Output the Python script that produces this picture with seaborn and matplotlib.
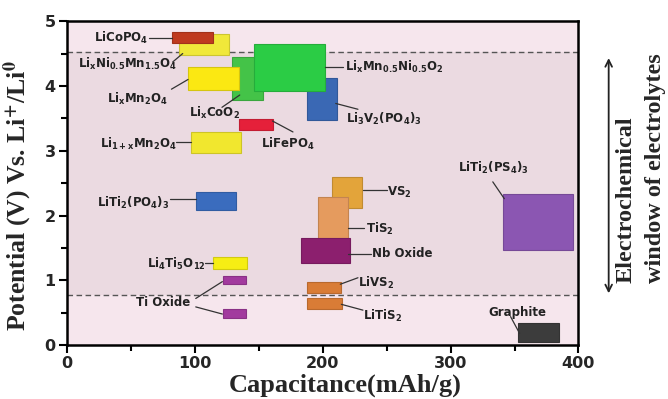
import numpy as np
import seaborn as sns
import matplotlib.pyplot as plt
import matplotlib.colors as mcolors
from matplotlib.transforms import blended_transform_factory

# boxes: capacity range (mAh/g) and potential range (V), drawn in this order
materials = ["LixNi0.5Mn1.5O4", "LiCoPO4", "LixCoO2", "LixMn2O4", "Li3V2(PO4)3",
             "LixMn0.5Ni0.5O2", "LiFePO4", "Li1+xMn2O4", "LiTi2(PO4)3", "VS2", "TiS2",
             "Nb Oxide", "Li4Ti5O12", "Ti Oxide (high)", "Ti Oxide (low)", "LiVS2",
             "LiTiS2", "LiTi2(PS4)3", "Graphite"]
cap_lo = [88, 82, 129, 95, 188, 146, 135, 97, 101, 207, 196, 183, 114, 122, 122, 188, 188, 341, 353]
cap_hi = [127, 114, 153, 135, 211, 202, 161, 136, 132, 231, 220, 221, 141, 140, 140, 214, 215, 396, 385]
pot_lo = [4.48, 4.66, 3.78, 3.94, 3.48, 3.92, 3.32, 2.97, 2.09, 2.11, 1.63, 1.26, 1.18, 0.94, 0.42, 0.80, 0.55, 1.47, 0.05]
pot_hi = [4.80, 4.83, 4.45, 4.30, 4.12, 4.64, 3.49, 3.29, 2.36, 2.59, 2.28, 1.66, 1.36, 1.07, 0.55, 0.98, 0.73, 2.34, 0.34]

box_colors = ["#f0e83a", "#bf3a20", "#44c348", "#fbe812", "#3a68b4", "#2bcc45", "#e5203a",
              "#f1e72e", "#3a6cbe", "#e3a43a", "#e59b5e", "#8c1f6e", "#f6ee14", "#a23a9e",
              "#a23a9e", "#d97c36", "#d97c36", "#8b56b2", "#3c3c3c"]

# electrolyte stability window
window_lo, window_hi = 0.77, 4.52

# label text, text centre, leader line (x0, y0, x1, y1)
labels = [
    (r"LiCoPO$_4$", 42.6, 4.74, [(64, 4.74, 82, 4.74)]),
    (r"Li$_x$Ni$_{0.5}$Mn$_{1.5}$O$_4$", 47, 4.34, [(82.8, 4.37, 90.6, 4.50)]),
    (r"Li$_x$Mn$_2$O$_4$", 55.6, 3.80, [(81.8, 3.95, 94.8, 4.10)]),
    (r"Li$_x$CoO$_2$", 115.2, 3.58, [(121.3, 3.67, 135.2, 3.86)]),
    (r"Li$_x$Mn$_{0.5}$Ni$_{0.5}$O$_2$", 255.6, 4.30, [(201.6, 4.30, 216, 4.30)]),
    (r"Li$_3$V$_2$(PO$_4$)$_3$", 247.7, 3.49, [(210.2, 3.73, 227.6, 3.64)]),
    (r"LiFePO$_4$", 172.8, 3.10, [(160.7, 3.46, 176.8, 3.29)]),
    (r"Li$_{1+x}$Mn$_2$O$_4$", 56.3, 3.10, [(85.7, 3.14, 97.4, 3.14)]),
    (r"LiTi$_2$(PO$_4$)$_3$", 52.3, 2.20, [(80.5, 2.25, 100.8, 2.25)]),
    (r"Li$_4$Ti$_5$O$_{12}$", 85.7, 1.25, [(107.8, 1.27, 114.3, 1.27)]),
    ("Ti Oxide", 75, 0.66, [(100.8, 0.72, 121.6, 0.98), (100.8, 0.59, 121.6, 0.48)]),
    (r"VS$_2$", 260, 2.36, [(231.5, 2.39, 250.5, 2.39)]),
    (r"TiS$_2$", 244.5, 1.80, [(219.8, 1.81, 232, 1.81)]),
    ("Nb Oxide", 262.5, 1.41, [(219.8, 1.40, 238, 1.40)]),
    (r"LiVS$_2$", 242, 0.96, [(213.8, 0.94, 227.6, 1.04)]),
    (r"LiTiS$_2$", 246.6, 0.45, [(214.6, 0.63, 231.5, 0.54)]),
    ("Graphite", 352.6, 0.50, [(346.9, 0.44, 354, 0.18)]),
    (r"LiTi$_2$(PS$_4$)$_3$", 333.6, 2.73, [(333, 2.52, 342, 2.26)]),
]

sns.set_theme(style="ticks")
plt.rcParams["mathtext.default"] = "bf"
plt.rcParams["font.family"] = ["DejaVu Sans"]

fig = plt.figure(figsize=(6.68, 3.99), dpi=100)
ax = fig.add_axes([0.100, 0.135, 0.766, 0.812])
ax.set_facecolor("#f6e6ed")
ax.axhspan(window_lo, window_hi, color="#ebdae1", zorder=0, lw=0)
for yv in (window_lo, window_hi):
    ax.axhline(yv, color="#555555", lw=1.0, ls=(0, (4, 2.5)), zorder=1)

heights = np.array(pot_hi) - np.array(pot_lo)
widths = np.array(cap_hi) - np.array(cap_lo)
edges = [tuple(c * 0.85 for c in mcolors.to_rgb(col)) for col in box_colors]
ax.bar(cap_lo, heights, width=widths, bottom=pot_lo, align="edge",
       color=box_colors, edgecolor=edges, linewidth=0.8, zorder=2)

for text, tx, ty, segs in labels:
    ax.text(tx, ty, text, ha="center", va="center", fontsize=8.5,
            fontweight="bold", color="#222222", zorder=4)
    for x0, y0, x1, y1 in segs:
        ax.plot([x0, x1], [y0, y1], color="#333333", lw=0.9, zorder=3)

ax.set_xlim(0, 400)
ax.set_ylim(0, 5)
ax.set_xticks(np.arange(0, 401, 100))
ax.set_xticks(np.arange(50, 400, 100), minor=True)
ax.set_yticks(np.arange(0, 6, 1))
ax.set_yticks(np.arange(0.5, 5, 1), minor=True)
ax.tick_params(which="major", length=6, width=1.5, color="black", pad=2)
ax.tick_params(which="minor", length=4, width=1.5, color="black")
for lab in ax.get_xticklabels() + ax.get_yticklabels():
    lab.set_fontweight("bold")
    lab.set_fontsize(11.5)
for sp in ax.spines.values():
    sp.set_visible(True)
    sp.set_linewidth(1.8)
    sp.set_color("black")

ax.set_xlabel("Capacitance(mAh/g)", fontfamily="Liberation Serif", fontweight="bold",
              fontsize=19, math_fontfamily="stix")
ax.set_ylabel(r"Potential (V) Vs. Li$^{+}$/Li$^{0}$", fontfamily="Liberation Serif",
              fontweight="bold", fontsize=18.5, math_fontfamily="stix")
ax.xaxis.set_label_coords(0.545, -0.088)
ax.yaxis.set_label_coords(-0.064, 0.46)

# electrochemical window arrow and caption outside the axes
tr = blended_transform_factory(ax.transAxes, ax.transData)
ax.annotate("", xy=(1.059, 4.43), xytext=(1.059, 0.80), xycoords=tr, textcoords=tr,
            arrowprops=dict(arrowstyle="<->", lw=1.3, color="#222222",
                            shrinkA=0, shrinkB=0), annotation_clip=False)
ax.text(1.092, 0.96, "Electrochemical", transform=tr, rotation=90, ha="center",
        va="bottom", fontfamily="Liberation Serif", fontweight="bold", fontsize=17.5,
        clip_on=False)
ax.text(1.150, 0.96, "window of electrolytes", transform=tr, rotation=90, ha="center",
        va="bottom", fontfamily="Liberation Serif", fontweight="bold", fontsize=17.5,
        clip_on=False)

fig.savefig("out.png", dpi=100)
